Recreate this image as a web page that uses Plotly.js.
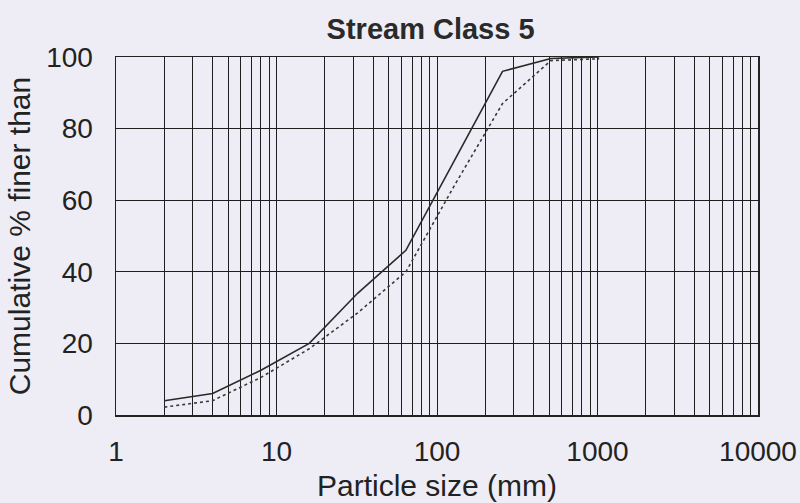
<!DOCTYPE html>
<html>
<head>
<meta charset="utf-8">
<script src="https://cdn.plot.ly/plotly-3.0.1.min.js"></script>
<style>
  html, body { margin: 0; padding: 0; background: #eeedf5; }
  #chart { width: 800px; height: 503px; }
</style>
</head>
<body>
<div id="chart"></div>
<script>
// Sieve sizes (mm)
const sizes = [2, 4, 8, 16, 32, 64, 128, 256, 512, 1024];
// Cumulative % finer than, solid curve
const solidPct = [4, 6, 12.5, 20, 34, 46, 71, 96, 99.6, 100];
// Cumulative % finer than, dotted curve
const dottedPct = [2.2, 4, 10.5, 18.5, 28.5, 40, 64, 87, 99, 99.5];

const xTickVals = [1, 10, 100, 1000, 10000];
const xTickText = ['1', '10', '100', '1000', '10000'];
const yTickVals = [0, 20, 40, 60, 80, 100];

const minorVals = [];
[1, 10, 100, 1000].forEach(d => { for (let k = 2; k <= 9; k++) minorVals.push(k * d); });

const gridCol = '#1e1e1e';
const font = 'Liberation Sans, Arial, sans-serif';

const traces = [
  { x: sizes, y: solidPct, mode: 'lines', line: { color: '#2a2a2a', width: 1.6 }, showlegend: false, hoverinfo: 'skip' },
  { x: sizes, y: dottedPct, mode: 'lines', line: { color: '#3a3a3a', width: 1.6, dash: 'dot' }, showlegend: false, hoverinfo: 'skip' }
];

const layout = {
  width: 800, height: 503,
  paper_bgcolor: '#eeedf5', plot_bgcolor: '#eeedf5',
  margin: { l: 116, r: 42, t: 57, b: 88 },
  font: { family: font, color: '#222' },
  title: { text: '<b>Stream Class 5</b>', x: 0.49, xref: 'paper', y: 0.962, yref: 'container',
           font: { family: font, size: 29, color: '#2a2a2a' } },
  xaxis: {
    type: 'log', range: [0, 4],
    tickmode: 'array', tickvals: xTickVals, ticktext: xTickText,
    ticks: '', ticklabelstandoff: 11,
    tickfont: { family: font, size: 28, color: '#222' },
    showgrid: true, gridcolor: gridCol, gridwidth: 1,
    minor: { tickmode: 'array', tickvals: minorVals, showgrid: true, gridcolor: gridCol, gridwidth: 1, ticks: '' },
    showline: true, linecolor: '#222', linewidth: 1.5, mirror: true,
    zeroline: false,
    title: { text: 'Particle size (mm)', standoff: 9, font: { family: font, size: 30, color: '#222' } }
  },
  yaxis: {
    range: [0, 100],
    tickmode: 'array', tickvals: yTickVals,
    ticks: '', ticklabelstandoff: 16,
    tickfont: { family: font, size: 28, color: '#222' },
    showgrid: true, gridcolor: gridCol, gridwidth: 1,
    showline: true, linecolor: '#222', linewidth: 1.5, mirror: true,
    zeroline: false,
    title: { text: 'Cumulative % finer than', standoff: 6, font: { family: font, size: 30, color: '#222' } }
  }
};

Plotly.newPlot('chart', traces, layout, { staticPlot: true, displayModeBar: false });
</script>
</body>
</html>
